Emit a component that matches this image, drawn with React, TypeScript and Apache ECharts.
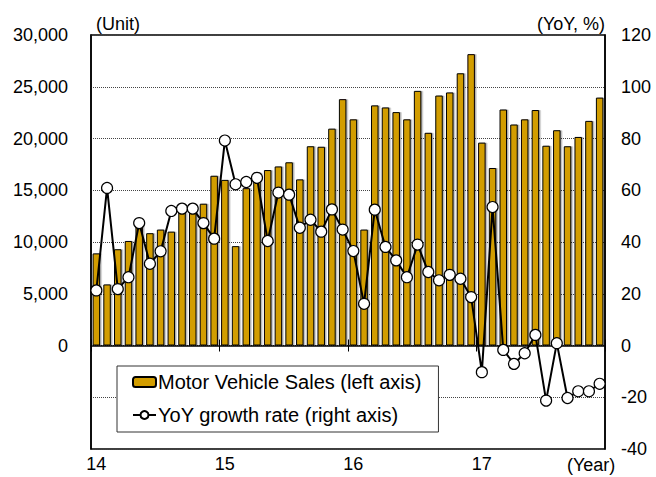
import React, { useEffect, useRef } from "react";
import * as echarts from "echarts";

const years = ["14", "15", "16", "17"];
const months = ["01", "02", "03", "04", "05", "06", "07", "08", "09", "10", "11", "12"];
const categories: string[] = years.flatMap((y) => months.map((m) => `${y}-${m}`));

// Motor vehicle sales (units, left axis)
const sales = [
  8900, 5900, 9300, 10100, 11700, 10850, 11200, 11000, 13100, 13100, 13700, 16400,
  16000, 9600, 15200, 16700, 16950, 17300, 17700, 16050, 19250, 19200, 20950, 23800,
  21850, 11200, 23200, 23000, 22550, 21850, 24600, 20550, 24150, 24450, 26300, 28150,
  19600, 17150, 22800, 21350, 21850, 22750, 19300, 20800, 19250, 20150, 21700, 23950,
];

// YoY growth rate (%, right axis)
const growth = [
  21.3, 60.9, 21.8, 26.4, 47.3, 31.6, 36.4, 52.0, 52.9, 52.9, 47.3, 41.3,
  79.2, 62.3, 63.2, 64.8, 40.4, 59.1, 58.3, 45.5, 48.6, 44.0, 52.6, 44.8,
  36.5, 16.1, 52.5, 38.1, 32.9, 26.4, 39.0, 28.4, 25.2, 27.3, 25.8, 18.7,
  -10.3, 53.5, -1.7, -7.1, -3.0, 4.1, -21.3, 0.9, -20.3, -17.7, -17.7, -14.8,
];

const FONT = "'Liberation Sans', Arial, sans-serif";

export default function App() {
  const ref = useRef<HTMLDivElement>(null);
  useEffect(() => {
    document.body.style.margin = "0";
    const chart = echarts.init(ref.current!, undefined, { renderer: "svg" });
    const yearTick = (i: number) => i % 12 === 0;
    chart.setOption({
      animation: false,
      textStyle: { fontFamily: FONT, fontSize: 18, color: "#000" },
      grid: {
        left: 91,
        right: 51,
        top: 35,
        bottom: 28,
        containLabel: false,
        outerBoundsMode: "none",
        show: true,
        borderColor: "#000",
        borderWidth: 1.5,
        backgroundColor: "transparent",
      },
      legend: {
        orient: "vertical",
        left: 117,
        top: 366,
        padding: [6, 17, 7, 15],
        itemGap: 13,
        itemWidth: 23,
        itemHeight: 10,
        backgroundColor: "#fff",
        borderColor: "#333",
        borderWidth: 1,
        textStyle: { fontFamily: FONT, fontSize: 20, color: "#000", padding: [0, 0, 0, -3] },
        data: ["Motor Vehicle Sales (left axis)", "YoY growth rate (right axis)"],
      },
      xAxis: [
        {
          type: "category",
          data: categories,
          position: "bottom",
          axisLine: { onZero: true, lineStyle: { color: "#000", width: 1.5 } },
          axisTick: { show: true, interval: yearTick, length: 6, inside: false, lineStyle: { color: "#000" } },
          axisLabel: { show: false },
          splitLine: { show: false },
          z: 5,
        },
        {
          type: "category",
          data: categories,
          position: "bottom",
          axisLine: { show: false, onZero: true },
          axisTick: { show: true, interval: yearTick, length: 6, inside: true, lineStyle: { color: "#000" } },
          axisLabel: { show: false },
          splitLine: { show: false },
          z: 5,
        },
        {
          type: "category",
          data: categories,
          position: "bottom",
          axisLine: { show: false, onZero: false },
          axisTick: { show: false },
          axisLabel: {
            interval: (i: number) => i % 12 === 0,
            formatter: (v: string) => v.split("-")[0],
            margin: 8,
            lineHeight: 14,
            fontSize: 18,
            fontFamily: FONT,
            color: "#000",
          },
          splitLine: { show: false },
        },
      ],
      yAxis: [
        {
          type: "value",
          min: -10000,
          max: 30000,
          interval: 5000,
          axisLine: { show: true, lineStyle: { color: "#000", width: 1.5 } },
          axisTick: { show: false },
          axisLabel: {
            margin: 23,
            fontSize: 18,
            fontFamily: FONT,
            color: "#000",
            formatter: (v: number) => (v < 0 ? "" : v.toLocaleString("en-US")),
          },
          splitLine: { show: true, lineStyle: { color: "#444", type: "dotted", width: 1 } },
        },
        {
          type: "value",
          min: -40,
          max: 120,
          interval: 20,
          position: "right",
          axisLine: { show: true, lineStyle: { color: "#000", width: 1.5 } },
          axisTick: { show: false },
          axisLabel: { margin: 16, fontSize: 18, fontFamily: FONT, color: "#000" },
          splitLine: { show: false },
        },
      ],
      series: [
        {
          name: "Motor Vehicle Sales (left axis)",
          type: "bar",
          xAxisIndex: 0,
          yAxisIndex: 0,
          data: sales,
          barCategoryGap: "30%",
          itemStyle: {
            color: "#D29D00",
            borderColor: "#000",
            borderWidth: 1,
            shadowColor: "rgba(0,0,0,0.3)",
            shadowOffsetX: 1.5,
            shadowOffsetY: 0,
            shadowBlur: 1,
          },
        },
        {
          name: "YoY growth rate (right axis)",
          type: "line",
          xAxisIndex: 0,
          yAxisIndex: 1,
          data: growth,
          symbol: "circle",
          symbolSize: 11,
          showSymbol: true,
          showAllSymbol: true,
          z: 10,
          lineStyle: { color: "#000", width: 2 },
          itemStyle: { color: "#fff", borderColor: "#000", borderWidth: 1.2 },
        },
      ],
      graphic: [
        { type: "text", left: 96, top: 15, style: { text: "(Unit)", font: `18px ${FONT}`, fill: "#000" } },
        { type: "text", right: 51, top: 15, style: { text: "(YoY, %)", font: `18px ${FONT}`, fill: "#000" } },
        { type: "text", left: 567, top: 456, style: { text: "(Year)", font: `18px ${FONT}`, fill: "#000" } },
      ],
    });
    return () => chart.dispose();
  }, []);
  return <div ref={ref} style={{ width: 656, height: 477 }} />;
}
